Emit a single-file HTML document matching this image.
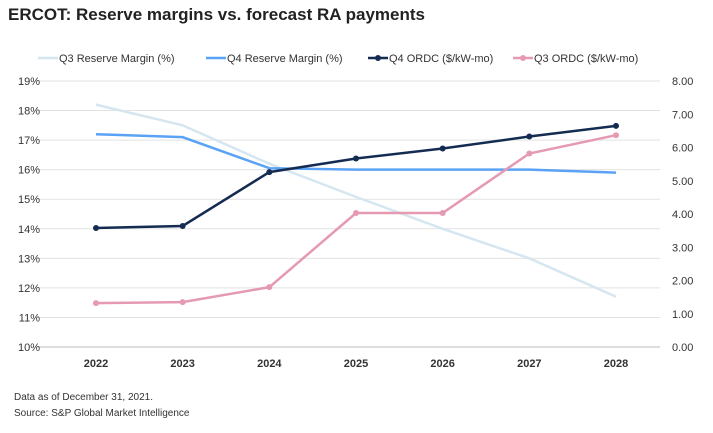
<!DOCTYPE html>
<html><head><meta charset="utf-8"><style>
body{margin:0;background:#fff;font-family:"Liberation Sans",sans-serif;}
</style></head><body>
<svg width="713" height="428" viewBox="0 0 713 428" xmlns="http://www.w3.org/2000/svg">
<text x="8" y="20" font-size="17" font-weight="bold" fill="#222">ERCOT: Reserve margins vs. forecast RA payments</text>
<g id="grid"></g>
<g id="laxis"></g>
<g id="raxis"></g>
<g id="xaxis"></g>
<g id="series"></g>
<g id="legend"></g>
<text x="14" y="400" font-size="10" fill="#333">Data as of December 31, 2021.</text>
<text x="14" y="416" font-size="10" fill="#333">Source: S&amp;P Global Market Intelligence</text>
</svg>
<script>
const categories=["2022","2023","2024","2025","2026","2027","2028"];
const q3Margin=[18.2,17.5,16.2,15.08,14.0,13.0,11.7];
const q4Margin=[17.2,17.1,16.05,16.0,16.0,16.0,15.9];
const q4Ordc=[3.58,3.64,5.26,5.67,5.97,6.33,6.65];
const q3Ordc=[1.32,1.35,1.8,4.03,4.03,5.82,6.37];
const leftTicks=[10,11,12,13,14,15,16,17,18,19];
const rightTicks=[0,1,2,3,4,5,6,7,8];
const NS="http://www.w3.org/2000/svg";
const plotTop=81,plotBot=347,x0=96,x1=616;
const yL=v=>plotBot-(v-10)/9*(plotBot-plotTop);
const yR=v=>plotBot-v/8*(plotBot-plotTop);
const xS=i=>x0+i*(x1-x0)/(categories.length-1);
function mk(t,a,p){const e=document.createElementNS(NS,t);for(const k in a)e.setAttribute(k,a[k]);p.appendChild(e);return e;}
const G=document.getElementById('grid'),LA=document.getElementById('laxis'),RA=document.getElementById('raxis'),XA=document.getElementById('xaxis'),S=document.getElementById('series'),LG=document.getElementById('legend');
leftTicks.forEach(v=>{
 const l=mk('line',{x1:38,x2:660,y1:yL(v),y2:yL(v),stroke:v===10?'#bbb':'#e2e2e2','stroke-width':1},G);
 
 
 const t=mk('text',{x:40,y:yL(v)+4,'font-size':11,fill:'#333','text-anchor':'end'},LA);t.textContent=v+'%';
 
 
});
rightTicks.forEach(v=>{
 const t=mk('text',{x:672,y:yR(v)+4,'font-size':11,fill:'#333'},RA);t.textContent=v.toFixed(2);
 
 
});
categories.forEach((c,i)=>{
 const t=mk('text',{x:xS(i),y:367,'font-size':11,'font-weight':'bold',fill:'#333','text-anchor':'middle'},XA);t.textContent=c;
 
 
});
function series(vals,sc,col,w,dots,name){
 const p=mk('polyline',{points:vals.map((v,i)=>xS(i)+','+sc(v)).join(' '),fill:'none',stroke:col,'stroke-width':w},S);
 
 
 if(dots)vals.forEach((v,i)=>{const c=mk('circle',{cx:xS(i),cy:sc(v),r:3,fill:col},S);
 
 });
}
series(q3Margin,yL,'#d6e6f0',2.5,false,'q3-reserve-margin');
series(q4Margin,yL,'#5aa2f5',2.5,false,'q4-reserve-margin');
series(q3Ordc,yR,'#e59ab2',2.5,true,'q3-ordc');
series(q4Ordc,yR,'#142c52',2.5,true,'q4-ordc');
const leg=[["Q3 Reserve Margin (%)","#d6e6f0",false,50],["Q4 Reserve Margin (%)","#5aa2f5",false,218],["Q4 ORDC ($/kW-mo)","#142c52",true,380],["Q3 ORDC ($/kW-mo)","#e59ab2",true,525]];
leg.forEach(([t,c,d,x])=>{
 const g=mk('g',{},LG);
 
 
 mk('line',{x1:x-12,x2:x+8,y1:58,y2:58,stroke:c,'stroke-width':2.5},g);
 if(d)mk('circle',{cx:x-2,cy:58,r:3,fill:c},g);
 const tx=mk('text',{x:x+9,y:62,'font-size':11,fill:'#333'},g);tx.textContent=t;
});
</script>
</body></html>
